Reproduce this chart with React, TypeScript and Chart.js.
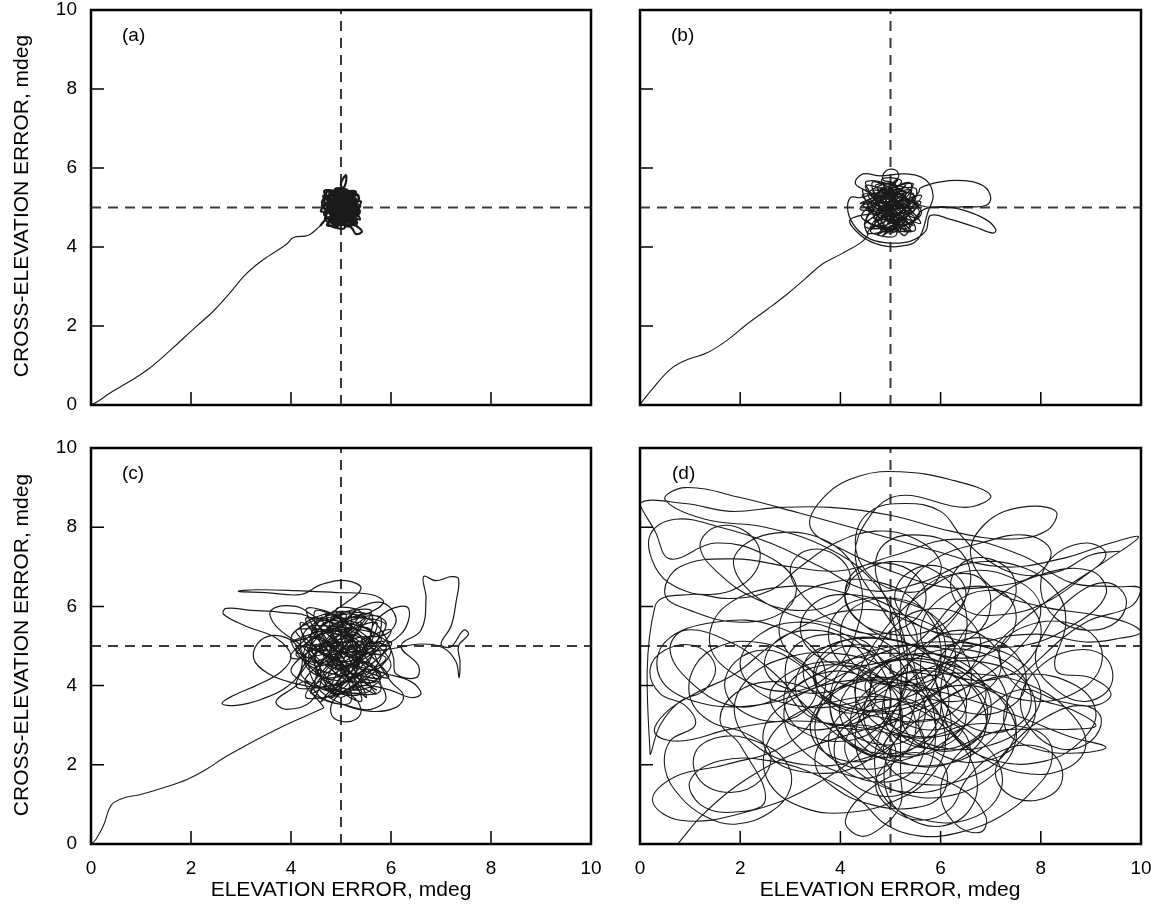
import React, { useEffect, useRef } from 'react';
import { Chart, registerables } from 'chart.js';

Chart.register(...registerables);

type Pt = [number, number];

// Axis and labels
const tickLabelValues = [0, 2, 4, 6, 8, 10];
const innerTickValues = [2, 4, 6, 8];
const guideValue = 5;
const panelLetters = ['(a)', '(b)', '(c)', '(d)'];
const yTitleText = 'CROSS-ELEVATION ERROR, mdeg';
const xTitleText = 'ELEVATION ERROR, mdeg';

// Panel (a): approach path, then a tight cluster around (5,5)
const aApproach: Pt[] = [
  [0, 0], [0.15, 0.1], [0.35, 0.28], [0.75, 0.58], [1.15, 0.91], [1.6, 1.4], [2.08, 1.96], [2.45, 2.38],
  [2.78, 2.84], [3.05, 3.25], [3.28, 3.52], [3.55, 3.77], [3.91, 4.07], [4.05, 4.24], [4.35, 4.3], [4.58, 4.53]
];
const aCluster: Pt[] = [
  [4.58, 4.53], [4.7, 4.7], [5.28, 5.2], [4.82, 5.38], [5.22, 4.62], [4.64, 5.02], [5.36, 4.98], [4.9, 4.56], [5.06, 5.42],
  [4.7, 5.22], [5.3, 4.78], [4.95, 5.0], [5.18, 5.35], [4.75, 4.62], [5.32, 5.1], [4.85, 5.25], [5.1, 4.6],
  [4.66, 4.85], [5.25, 5.3], [5.0, 4.7], [4.78, 5.4], [5.34, 4.85], [4.72, 4.55], [5.12, 5.15], [4.88, 4.8],
  [5.3, 5.4], [4.62, 5.15], [5.15, 4.52], [4.95, 5.3], [5.38, 4.7], [4.8, 5.05], [5.05, 4.65], [4.7, 5.35],
  [5.05, 5.5], [5.1, 5.82], [5.0, 5.55], [5.25, 5.0], [4.9, 4.5], [5.4, 5.15], [4.75, 4.95], [5.1, 5.45],
  [4.68, 4.7], [5.2, 4.75], [4.85, 5.15], [5.35, 5.3], [5.0, 4.55], [4.65, 5.3], [5.28, 4.55], [4.92, 4.9],
  [5.18, 5.25], [4.72, 5.05], [5.3, 4.92], [4.8, 4.62], [5.05, 5.38], [4.6, 4.9], [5.38, 5.05], [4.95, 4.65],
  [5.1, 5.1], [4.78, 5.28], [5.25, 4.68], [5.3, 4.55], [5.42, 4.4], [5.3, 4.33], [5.2, 4.5], [4.7, 4.8],
  [5.15, 5.4], [4.88, 5.45], [5.32, 4.6], [4.85, 4.7], [5.22, 5.12], [4.64, 5.2], [5.05, 4.9], [5.36, 5.25],
  [4.9, 5.35], [5.08, 4.5], [4.74, 4.6], [5.3, 5.0], [4.82, 4.9], [5.12, 5.28], [4.66, 5.4], [5.2, 4.58],
  [4.98, 5.18], [5.34, 4.78], [4.76, 5.1], [5.02, 4.62], [5.26, 5.38], [4.7, 4.95], [5.16, 4.82], [4.86, 5.32],
  [5.38, 4.9], [4.9, 4.6], [5.06, 5.22], [4.62, 5.05], [5.3, 5.22], [4.84, 4.52], [5.2, 4.95], [4.74, 5.25],
  [5.0, 5.0], [4.92, 5.12], [5.12, 4.72], [4.8, 4.85], [5.24, 5.06], [4.96, 4.78], [5.08, 5.3], [4.86, 5.02]
];

// Panel (b)
const bApproach: Pt[] = [
  [0, 0], [0.05, 0.1], [0.27, 0.44], [0.61, 0.91], [0.95, 1.15], [1.34, 1.32], [1.75, 1.65], [2.14, 2.05],
  [2.55, 2.43], [2.94, 2.81], [3.3, 3.2], [3.64, 3.57], [4.01, 3.82], [4.41, 4.11], [4.55, 4.3]
];
const bCluster: Pt[] = [
  [4.55, 4.3], [4.5, 4.6], [5.4, 5.4], [4.7, 5.55], [5.5, 4.7], [4.45, 5.05], [5.55, 5.1], [4.8, 4.45], [5.1, 5.6],
  [4.55, 5.3], [5.45, 4.55], [4.95, 5.0], [5.3, 5.55], [4.6, 4.5], [5.5, 5.25], [4.75, 5.4], [5.2, 4.4],
  [4.42, 4.8], [5.4, 5.45], [5.0, 4.6], [4.65, 5.65], [5.58, 4.85], [4.55, 4.35], [5.2, 5.2], [4.8, 4.75],
  [5.45, 5.6], [4.4, 5.25], [4.2, 5.25], [4.15, 4.9], [4.3, 4.5], [4.6, 4.2], [5.0, 4.1], [5.4, 4.15],
  [5.7, 4.4], [5.8, 4.8], [6.2, 4.7], [6.7, 4.5], [7.05, 4.35], [7.1, 4.45], [6.9, 4.7], [6.4, 4.95],
  [6.0, 5.02], [5.6, 4.9], [5.25, 4.3], [4.9, 5.45], [5.6, 4.6], [4.7, 5.05], [5.1, 4.55], [4.5, 5.55],
  [5.4, 5.0], [4.85, 4.3], [5.62, 5.3], [4.6, 4.9], [5.15, 5.7], [4.48, 4.55], [5.3, 4.65], [4.78, 5.25],
  [5.52, 5.45], [5.0, 4.35], [4.45, 5.45], [5.42, 4.4], [4.88, 4.85], [5.28, 5.4], [4.58, 5.1], [5.48, 4.95],
  [4.7, 4.55], [5.05, 5.6], [4.85, 5.7], [4.9, 5.92], [5.1, 5.95], [5.15, 5.75], [4.4, 4.95], [5.6, 5.15],
  [4.92, 4.5], [5.15, 5.15], [4.66, 5.42], [5.38, 4.52], [4.52, 4.7], [5.22, 5.65], [4.82, 5.68], [5.5, 4.45],
  [4.76, 4.62], [5.32, 5.18], [4.44, 5.32], [5.08, 4.82], [5.56, 5.38], [5.6, 5.5], [6.0, 5.65], [6.45, 5.68],
  [6.85, 5.55], [7.0, 5.25], [6.9, 5.05], [6.5, 5.02], [6.0, 5.0], [5.6, 5.05], [4.86, 5.52], [5.12, 4.32],
  [4.6, 4.42], [5.46, 5.02], [4.72, 4.88], [5.18, 5.44], [4.5, 5.62], [5.34, 4.36], [4.98, 5.26], [5.56, 4.7],
  [4.62, 5.18], [5.04, 4.44], [5.4, 5.62], [4.52, 4.98], [5.26, 4.78], [4.8, 5.5], [5.62, 4.88], [4.84, 4.4],
  [5.1, 5.34], [4.4, 5.1], [5.46, 5.34], [4.74, 4.32], [5.3, 4.94], [4.6, 5.38], [4.3, 5.6], [4.45, 5.85],
  [4.8, 5.8], [5.3, 5.85], [5.7, 5.7], [5.85, 5.3], [5.75, 4.9], [5.55, 4.2], [5.2, 4.02], [4.8, 4.05],
  [4.4, 4.3], [4.2, 4.7], [4.9, 4.9], [5.2, 5.1], [4.95, 5.15], [5.05, 4.75], [4.7, 5.2], [5.3, 5.3],
  [4.65, 4.75], [5.35, 4.8], [4.85, 5.35], [5.15, 4.6], [4.55, 5.0], [5.45, 5.2], [5.0, 5.0]
];

// Panel (c)
const cApproach: Pt[] = [
  [0, 0], [0.1, 0.12], [0.26, 0.5], [0.36, 0.88], [0.46, 1.05], [0.7, 1.18], [0.99, 1.25], [1.45, 1.42],
  [1.92, 1.63], [2.3, 1.88], [2.66, 2.18], [3.0, 2.42], [3.32, 2.64], [3.66, 2.86], [3.99, 3.06], [4.33, 3.25],
  [4.66, 3.44]
];
const cCluster: Pt[] = [
  [4.66, 3.44], [4.3, 4.2], [5.6, 5.3], [4.5, 5.6], [5.8, 4.2], [4.1, 4.9], [5.9, 5.0], [4.7, 3.9], [5.2, 5.8],
  [4.2, 5.4], [5.7, 3.9], [4.9, 4.8], [5.5, 5.7], [4.4, 3.8], [5.9, 5.5], [4.6, 5.5], [5.4, 3.8],
  [4.0, 4.4], [5.7, 5.6], [5.0, 4.2], [4.5, 5.9], [6.0, 4.5], [4.3, 3.7], [5.3, 5.3], [4.7, 4.5],
  [5.6, 5.9], [4.0, 5.2], [5.4, 3.6], [4.8, 5.5], [5.95, 4.2], [4.4, 4.9], [5.2, 4.1], [4.3, 5.7],
  [5.8, 4.8], [4.8, 3.7], [6.0, 5.4], [4.4, 4.6], [5.3, 5.9], [4.1, 4.0], [5.5, 4.4], [4.6, 5.2],
  [5.8, 5.7], [5.0, 3.7], [4.2, 5.6], [5.7, 3.8], [4.8, 4.7], [5.4, 5.6], [4.3, 5.0], [5.9, 4.7],
  [4.5, 4.0], [5.1, 5.8], [4.0, 4.7], [6.0, 5.1], [4.9, 4.0], [5.3, 5.0], [4.6, 5.7], [5.6, 3.9],
  [4.2, 4.3], [5.4, 5.8], [4.9, 5.9], [5.8, 3.9], [4.6, 4.1], [5.5, 5.1], [4.1, 5.4], [5.1, 4.6],
  [5.9, 5.6], [4.8, 5.7], [5.2, 3.6], [4.4, 3.9], [5.7, 4.9], [4.6, 4.8], [5.2, 5.5], [4.3, 5.9],
  [5.5, 3.7], [5.0, 5.3], [5.9, 4.3], [4.4, 5.2], [5.0, 3.9], [5.6, 5.8], [4.1, 4.8], [5.4, 4.6],
  [4.7, 5.8], [6.0, 4.9], [4.8, 3.8], [5.2, 5.4], [4.0, 5.1], [5.6, 5.4], [4.6, 3.6], [5.4, 4.9],
  [4.4, 5.5], [5.8, 5.2], [4.9, 4.4], [5.1, 5.1], [4.5, 4.3], [5.7, 4.1], [4.3, 4.6], [5.0, 5.6],
  [5.3, 4.3], [4.7, 5.0], [5.5, 4.8], [4.9, 4.9], [4.4, 5.7], [3.8, 5.85], [3.2, 5.9], [2.7, 5.95],
  [2.65, 5.8], [3.1, 5.5], [3.7, 5.2], [4.0, 4.75], [3.8, 4.35], [3.3, 4.0], [2.85, 3.75], [2.62, 3.55],
  [2.9, 3.5], [3.4, 3.65], [3.9, 3.95], [4.2, 4.4], [4.15, 4.95], [3.8, 5.25], [3.4, 5.15], [3.25, 4.7],
  [3.55, 4.3], [4.1, 4.05], [4.7, 3.9], [5.2, 3.75], [5.4, 3.4], [5.3, 3.15], [5.0, 3.1], [4.8, 3.3],
  [4.9, 3.7], [5.4, 4.0], [5.95, 3.9], [6.4, 3.7], [6.6, 3.8], [6.4, 4.1], [5.9, 4.3], [5.3, 4.5],
  [4.75, 4.75], [4.4, 5.15], [4.55, 5.6], [5.0, 6.0], [5.4, 6.45], [5.1, 6.65], [4.6, 6.55], [4.2, 6.3],
  [3.5, 6.35], [2.95, 6.38], [3.3, 6.42], [4.1, 6.4], [4.9, 6.35], [5.6, 6.3], [5.85, 6.1], [5.5, 5.8],
  [5.0, 5.6], [5.6, 5.0], [6.2, 5.3], [6.35, 5.95], [5.95, 5.9], [5.6, 5.4], [5.7, 4.7], [6.0, 4.1],
  [6.25, 3.75], [6.1, 3.45], [5.6, 3.35], [5.0, 3.55], [4.5, 4.0], [4.35, 4.7], [4.55, 5.4], [5.05, 5.8],
  [5.6, 5.65], [5.9, 5.2], [6.05, 4.7], [6.1, 4.3], [6.5, 4.2], [6.55, 4.5], [6.2, 5.0], [6.6, 5.4],
  [6.7, 6.2], [6.65, 6.75], [6.9, 6.65], [7.2, 6.75], [7.35, 6.7], [7.3, 6.1], [7.2, 5.5], [7.0, 5.05],
  [7.2, 4.98], [7.45, 5.4], [7.55, 5.3], [7.35, 5.0], [7.38, 4.6], [7.36, 4.2], [7.3, 4.6], [7.05, 4.95],
  [6.6, 5.05], [6.1, 4.95], [5.6, 4.85], [5.0, 4.7], [4.5, 4.5], [4.2, 4.9], [4.3, 5.4], [4.7, 5.65],
  [5.2, 5.5], [5.45, 5.0], [5.3, 4.45], [4.85, 4.2], [4.4, 4.35], [4.25, 4.8], [4.5, 5.25], [4.95, 5.3],
  [5.3, 5.05], [5.25, 4.6], [4.9, 4.45], [4.65, 4.75], [4.8, 5.05], [5.1, 4.95], [5.6, 4.3], [5.9, 3.7],
  [5.6, 3.4], [5.1, 3.5], [4.6, 3.7], [4.3, 4.1], [4.0, 3.9], [3.7, 3.6], [3.9, 3.4], [4.4, 3.6],
  [4.6, 4.3], [4.3, 4.9], [3.7, 5.5], [3.6, 5.9], [4.1, 6.0], [4.6, 5.7], [5.2, 5.9], [5.8, 6.1],
  [6.1, 5.7], [5.9, 5.3], [5.3, 5.2], [4.8, 4.9], [4.9, 4.5], [5.5, 4.6], [5.8, 4.2], [5.4, 3.9],
  [4.9, 4.0], [4.5, 4.4], [4.6, 5.0], [5.1, 5.2]
];

// Panel (d)
const dPathMain: Pt[] = [
  [0.75, 0.0], [1.3, 0.8], [2.2, 1.7], [3.3, 2.4], [4.5, 2.9], [5.6, 3.4], [6.7, 4.1], [7.6, 5.0],
  [8.0, 5.9], [7.6, 6.6], [6.6, 6.9], [5.6, 6.3], [4.7, 5.1], [4.3, 3.9], [4.6, 2.7], [5.4, 2.0],
  [6.3, 2.1], [6.9, 2.9], [6.6, 4.0], [5.7, 4.6], [4.5, 4.5], [3.4, 3.9], [2.3, 3.5], [1.1, 3.6],
  [0.4, 4.2], [0.5, 5.1], [1.5, 5.6], [2.7, 5.5], [3.6, 4.7], [3.6, 3.5], [2.9, 2.5], [1.7, 2.0],
  [0.7, 1.7], [0.25, 1.1], [0.8, 0.6], [2.1, 0.8], [3.5, 1.5], [4.7, 2.7], [5.3, 4.1], [5.2, 5.5],
  [4.6, 6.7], [3.7, 7.5], [2.5, 8.0], [1.3, 8.2], [0.5, 8.7], [0.9, 9.0], [2.0, 8.75], [3.2, 8.35],
  [4.5, 7.9], [5.9, 7.4], [7.2, 7.0], [8.4, 7.2], [9.4, 7.6], [9.95, 7.75], [9.3, 7.15], [8.3, 6.3],
  [7.4, 5.4], [6.5, 4.3], [5.5, 3.6], [4.5, 3.3], [3.9, 2.6], [4.1, 1.7], [4.9, 1.2], [5.6, 1.6],
  [5.9, 2.7], [5.7, 3.9], [5.0, 5.0], [4.0, 5.5], [3.0, 5.8], [2.1, 6.5], [1.9, 7.3], [2.7, 7.85],
  [3.8, 7.6], [4.4, 6.6], [4.3, 5.3], [3.8, 4.3], [3.0, 3.85], [2.0, 4.2], [1.4, 5.0], [1.7, 6.0],
  [2.9, 6.5], [4.2, 6.3], [5.4, 5.6], [6.5, 5.1], [7.6, 5.0], [8.6, 5.5], [9.3, 6.3], [9.0, 6.9],
  [8.0, 6.8], [7.0, 6.1], [6.3, 5.0], [6.0, 3.8], [6.3, 2.7], [7.1, 2.1], [8.1, 2.1], [8.8, 2.6],
  [9.1, 3.3], [8.7, 4.0], [7.7, 4.3], [6.6, 4.0], [5.7, 3.3], [5.0, 2.4], [4.9, 1.4], [5.3, 0.7],
  [6.0, 0.45], [6.6, 0.9], [6.7, 1.8], [6.2, 2.8], [5.4, 3.5], [4.4, 3.9], [3.4, 4.4], [2.8, 5.2],
  [3.0, 6.1], [3.8, 6.6], [4.8, 6.6], [5.6, 6.0], [6.0, 5.0], [5.8, 3.9], [5.1, 3.1], [4.2, 2.9],
  [3.4, 3.3], [3.1, 4.1], [3.6, 4.9], [4.6, 5.2], [5.7, 4.9], [6.6, 4.3], [7.3, 3.5], [7.5, 2.6],
  [7.0, 1.7], [6.1, 1.2], [5.2, 1.3], [4.5, 1.9], [4.3, 2.8], [4.7, 3.7], [5.6, 4.2], [6.7, 4.3],
  [7.8, 4.0], [8.6, 3.3], [8.9, 2.5], [8.5, 1.9], [7.6, 1.8], [6.7, 2.3], [6.0, 3.2], [5.5, 4.2],
  [5.2, 5.3], [5.3, 6.4], [5.9, 7.2], [6.8, 7.6], [7.7, 7.8], [8.2, 7.4], [7.9, 6.8], [7.0, 6.5],
  [6.0, 6.5], [5.0, 6.9], [4.1, 7.4], [3.4, 8.0], [3.7, 8.8], [4.4, 9.3], [5.2, 9.4], [6.2, 9.2],
  [7.0, 8.8], [6.5, 8.5], [5.2, 8.8], [4.6, 8.3], [4.3, 7.2], [4.8, 6.0], [5.4, 4.8], [5.5, 3.6],
  [5.1, 2.6], [4.3, 2.1], [3.3, 2.0], [2.4, 2.4], [1.9, 3.2], [2.1, 4.1], [2.9, 4.7], [4.0, 4.8],
  [5.0, 4.4], [5.8, 3.6], [6.1, 2.6], [5.8, 1.7], [5.1, 1.1], [4.2, 0.8], [3.3, 0.9], [2.6, 1.5],
  [2.5, 2.4], [3.0, 3.2], [3.9, 3.6], [4.9, 3.7], [5.9, 3.3], [6.7, 2.7], [7.2, 1.9], [7.1, 1.1],
  [6.5, 0.6], [5.7, 0.6], [5.0, 1.0], [4.7, 1.8], [4.8, 2.8], [5.3, 3.7], [6.0, 4.5], [6.9, 5.1],
  [7.9, 5.3], [8.9, 5.1], [9.6, 5.2], [10.0, 5.35], [9.7, 5.6], [9.0, 5.8], [8.0, 6.0], [7.1, 6.4],
  [6.6, 7.3], [6.9, 8.1], [7.6, 8.5], [8.3, 8.4], [8.1, 7.9], [7.3, 7.7], [6.2, 7.9], [5.0, 8.3],
  [3.8, 8.5], [2.8, 8.5], [1.8, 8.4], [0.9, 8.6], [0.0, 8.6], [0.3, 7.9], [0.6, 7.2], [1.5, 7.6],
  [2.5, 7.3], [3.1, 6.6], [2.9, 5.9], [2.0, 5.6], [1.0, 5.9], [0.5, 6.3], [0.8, 7.0], [1.9, 7.2],
  [3.0, 7.0], [4.0, 6.9], [5.1, 7.3], [6.3, 7.7], [7.6, 7.3], [8.6, 6.6], [9.5, 6.5], [10.0, 6.45],
  [9.8, 6.0], [8.9, 5.6], [8.0, 4.7], [7.4, 3.8], [7.3, 2.9], [7.9, 2.4], [8.8, 2.3], [9.3, 2.45],
  [8.6, 2.7], [7.6, 3.2], [6.7, 3.6], [5.8, 3.9], [4.9, 4.1], [4.0, 4.1], [3.1, 3.7], [2.5, 3.0],
  [2.6, 2.2], [3.4, 1.8], [4.4, 2.0], [5.0, 2.8], [5.2, 3.8], [4.8, 4.7], [4.1, 5.0], [3.4, 4.8],
  [3.3, 4.1], [3.9, 3.5], [4.8, 3.2], [5.7, 3.1], [6.4, 3.5], [6.6, 4.4], [6.1, 5.3], [5.2, 5.8],
  [4.2, 5.9], [3.4, 5.6], [2.6, 5.0], [1.9, 4.3], [1.1, 3.8], [0.5, 3.3], [0.3, 2.8], [0.8, 2.6],
  [1.8, 2.9], [2.9, 3.1], [4.1, 3.0], [5.3, 2.7], [6.2, 2.4], [7.0, 2.5], [7.7, 3.0], [8.0, 3.8],
  [7.6, 4.6], [6.8, 5.0], [5.9, 5.1], [5.0, 4.9], [4.2, 4.4], [3.8, 3.6], [4.0, 2.8], [4.7, 2.3],
  [5.6, 2.5], [6.1, 3.2], [6.1, 4.1], [5.6, 4.9], [4.8, 5.2], [4.0, 5.1], [3.5, 4.5], [3.6, 3.8],
  [4.3, 3.4], [5.2, 3.4], [6.0, 3.9], [6.3, 4.7], [6.0, 5.6], [5.3, 6.1], [4.5, 6.2], [3.9, 5.8],
  [3.8, 5.0], [4.3, 4.3], [5.1, 4.0], [5.9, 4.2], [6.4, 4.9], [6.5, 5.9], [6.1, 6.7], [5.4, 7.1],
  [4.6, 7.0], [4.1, 6.4], [4.3, 5.7], [5.0, 5.3], [5.8, 5.4], [6.4, 6.0], [6.6, 6.8], [6.3, 7.5],
  [5.6, 7.8], [4.9, 7.6], [4.7, 6.9], [5.0, 5.9], [5.2, 4.6], [5.2, 3.3], [5.2, 1.8], [5.2, 1.0],
  [4.8, 0.4], [4.4, 0.2], [4.1, 0.6], [4.6, 1.4], [5.4, 1.8], [6.4, 1.4], [6.9, 0.7], [6.8, 0.3],
  [6.3, 0.5], [6.0, 1.3], [6.3, 2.2], [7.0, 2.8], [7.9, 2.9], [8.7, 2.9], [9.1, 3.0], [8.6, 3.4],
  [7.9, 3.7], [7.3, 4.3], [7.2, 5.0], [7.7, 5.5], [8.5, 5.6], [9.1, 5.2], [9.2, 4.5], [8.8, 3.9],
  [8.0, 3.6], [7.0, 3.9], [6.2, 4.5], [5.3, 4.8], [4.3, 4.7], [3.4, 4.2], [2.6, 3.6], [1.8, 3.5],
  [1.0, 4.1], [0.6, 4.9], [0.9, 5.4], [1.8, 5.1], [2.6, 4.4], [3.3, 3.5], [4.1, 2.6], [5.0, 2.1],
  [6.0, 2.0], [6.8, 2.4], [7.3, 3.2], [7.2, 4.1], [6.6, 4.7], [5.7, 5.0], [4.7, 4.9], [4.0, 4.4],
  [3.8, 3.4], [4.2, 2.5], [5.0, 2.2], [5.8, 2.8], [6.0, 3.7], [5.6, 4.5], [4.9, 4.6], [4.5, 3.9]
];
const dPathExtra: Pt[] = [
  [5.2, 3.1], [6.0, 2.9], [6.5, 3.4], [6.3, 4.2], [5.5, 4.4], [4.9, 3.8], [5.1, 2.9], [5.8, 2.4],
  [6.6, 2.6], [7.0, 3.3], [6.8, 4.1], [6.0, 4.6], [5.0, 4.6], [4.2, 4.0], [4.0, 3.2], [4.5, 2.6],
  [5.3, 2.6], [5.7, 3.3], [5.4, 4.0], [4.6, 4.2], [3.8, 3.8], [3.4, 3.0], [3.7, 2.3], [4.5, 2.1],
  [5.1, 2.6], [5.2, 3.5], [4.7, 4.3], [3.9, 4.6], [3.1, 4.4], [2.6, 3.8], [2.9, 3.1], [3.7, 2.9],
  [4.4, 3.4], [4.6, 4.3], [4.2, 5.1], [3.4, 5.4], [2.7, 5.1], [2.5, 4.4], [3.0, 3.9], [3.9, 3.9],
  [4.6, 4.6], [5.0, 5.4], [5.6, 5.9], [6.4, 5.8], [6.8, 5.1], [6.5, 4.3], [5.8, 3.9], [5.0, 4.0],
  [4.3, 4.5], [4.0, 5.3], [4.3, 6.0], [5.1, 6.2], [5.8, 5.8], [6.1, 5.0], [5.9, 4.2], [5.3, 3.7],
  [4.5, 3.6], [3.9, 3.1], [3.8, 2.3], [4.3, 1.7], [5.1, 1.6], [5.6, 2.1], [5.6, 2.9], [5.0, 3.3],
  [4.3, 3.0], [4.1, 2.3], [4.6, 1.6], [5.5, 1.3], [6.3, 1.6], [6.6, 2.3], [6.3, 3.0], [5.5, 3.1],
  [4.9, 2.6], [5.0, 1.9], [5.7, 1.5], [6.6, 1.7], [7.3, 2.3], [7.5, 3.1], [7.1, 3.8], [6.3, 4.0],
  [5.7, 3.6], [5.6, 2.8], [6.1, 2.2], [6.9, 2.1], [7.6, 2.6], [7.9, 3.4], [7.6, 4.2], [6.8, 4.6],
  [5.9, 4.5], [5.3, 4.0], [5.2, 3.2], [5.6, 2.5], [6.4, 2.4], [6.9, 3.0], [6.8, 3.8], [6.1, 4.3],
  [5.2, 4.3], [4.6, 3.8], [4.5, 3.0], [5.0, 2.4], [5.8, 2.3], [6.2, 2.9], [6.0, 3.7], [5.3, 4.1],
  [4.4, 4.1], [3.7, 3.6], [3.5, 2.8], [3.9, 2.1], [4.7, 1.9], [5.3, 2.3], [5.5, 3.1], [5.1, 3.9],
  [4.4, 4.4], [3.6, 4.5], [3.0, 4.1], [2.9, 3.4], [3.3, 2.8], [4.1, 2.6], [4.8, 3.0], [5.0, 3.8],
  [4.6, 4.8], [3.9, 5.4], [3.1, 5.6], [2.4, 5.3], [2.0, 4.6], [2.3, 3.9], [3.1, 3.5], [4.0, 3.5],
  [4.8, 3.9], [5.4, 4.6], [5.5, 5.4], [5.0, 6.0], [4.2, 6.3], [3.5, 6.1], [3.2, 5.4], [3.6, 4.7],
  [4.4, 4.5], [5.2, 4.8], [5.8, 5.4], [6.3, 6.1], [6.9, 6.4], [7.6, 6.2], [8.0, 5.5], [7.8, 4.7],
  [7.2, 4.2], [6.4, 4.2], [5.8, 4.7], [5.6, 5.4], [5.9, 6.1], [6.6, 6.5], [7.3, 6.3], [7.5, 5.6],
  [7.1, 4.9], [6.3, 4.7], [5.6, 5.0], [5.3, 5.7], [5.6, 6.4], [6.2, 6.8], [6.8, 6.7], [7.0, 6.0],
  [6.7, 5.3], [6.0, 5.0], [5.2, 5.1], [4.5, 5.5], [4.1, 6.2], [4.3, 6.9], [4.9, 7.1], [5.5, 6.8],
  [5.7, 6.1], [5.3, 5.5], [4.6, 5.3], [3.9, 5.6], [3.3, 6.2], [3.0, 6.9], [3.3, 7.4], [3.9, 7.3],
  [4.2, 6.7], [3.9, 6.1], [3.1, 5.9], [2.3, 6.2], [1.6, 6.8], [1.2, 7.5], [1.5, 8.0], [2.1, 7.9],
  [2.4, 7.3], [2.1, 6.6], [1.4, 6.3], [0.7, 6.5], [0.3, 7.0], [0.2, 7.8], [0.7, 8.2], [1.6, 8.0],
  [2.6, 7.6], [3.6, 7.0], [4.6, 6.4], [5.6, 6.6], [6.6, 7.1], [7.6, 7.0], [8.3, 6.4], [8.5, 5.6],
  [8.3, 4.4], [9.0, 4.2], [9.4, 3.8], [9.1, 3.5], [8.4, 3.6], [7.6, 3.9], [6.8, 3.3], [6.1, 2.6],
  [5.4, 2.2], [4.6, 2.5], [4.0, 3.4], [3.4, 3.9], [2.6, 4.1], [1.9, 3.8], [1.6, 3.1], [2.0, 2.5],
  [2.5, 1.1], [1.8, 0.8], [1.2, 1.0], [1.0, 1.6], [1.6, 2.1], [2.6, 2.1], [3.6, 1.7], [4.4, 1.1],
  [4.9, 0.5], [5.6, 0.2], [6.4, 0.3], [7.2, 0.7], [7.8, 1.3], [8.2, 2.0], [8.1, 2.7], [7.4, 3.0],
  [6.5, 3.0], [5.7, 2.7], [5.0, 3.0], [4.6, 3.6], [4.8, 4.4], [5.5, 4.8], [6.4, 4.6], [6.9, 3.9],
  [6.6, 3.1], [5.9, 2.7], [5.1, 2.8], [4.5, 3.3], [4.3, 4.0], [4.8, 4.5]
];
const dPathLate: Pt[] = [
  [5.5, 4.9], [6.2, 5.6], [6.5, 6.4], [6.0, 7.0], [5.3, 6.8], [5.1, 6.1], [5.6, 5.5], [6.4, 5.3],
  [7.1, 5.6], [7.5, 6.3], [7.3, 7.0], [6.6, 7.2], [6.2, 6.6], [6.5, 5.9], [7.3, 5.8], [8.1, 6.1],
  [8.8, 6.7], [9.3, 7.3], [8.9, 7.6], [8.2, 7.2], [8.0, 6.4], [8.3, 5.7], [8.9, 5.4], [9.5, 5.6],
  [9.7, 6.2], [9.3, 6.6], [8.6, 6.2], [8.1, 5.4], [7.9, 4.6], [8.3, 3.9], [8.9, 3.6], [9.4, 4.0],
  [9.3, 4.7], [8.7, 4.9], [8.0, 4.5], [7.6, 3.7], [7.8, 2.9], [8.4, 2.4], [9.0, 2.6], [9.2, 3.2],
  [8.8, 3.5], [8.1, 3.2], [7.5, 2.6], [7.1, 1.9], [7.3, 1.3], [7.9, 1.1], [8.4, 1.5], [8.3, 2.2],
  [7.7, 2.5], [7.0, 2.2], [6.5, 1.6], [6.2, 0.9], [5.6, 0.6], [5.0, 0.9], [4.7, 1.5], [5.0, 2.1],
  [5.6, 2.3], [6.1, 1.9], [6.0, 1.2], [5.4, 0.9], [4.6, 1.0], [3.9, 1.4], [3.5, 2.0], [3.7, 2.7],
  [4.3, 3.0], [4.9, 2.8], [5.1, 2.2], [4.7, 1.7], [4.0, 1.8], [3.3, 2.3], [2.9, 3.0], [3.0, 3.8],
  [3.6, 4.3], [4.3, 4.3], [4.7, 3.8], [4.5, 3.2], [3.9, 3.0], [3.2, 3.4], [2.9, 4.2], [3.1, 5.0],
  [3.8, 5.3], [4.5, 5.1], [4.9, 4.5], [5.4, 3.9], [6.1, 3.6], [6.8, 3.8], [7.2, 4.4], [7.0, 5.1],
  [6.4, 5.4], [5.8, 5.1], [5.6, 4.4], [5.9, 3.7], [6.6, 3.3], [7.3, 3.4], [7.7, 4.0], [7.5, 4.8],
  [6.9, 5.2], [6.2, 5.0], [5.9, 4.3], [6.1, 3.5], [6.7, 2.9], [7.4, 2.9], [7.8, 3.5], [7.6, 4.3],
  [6.9, 4.8], [6.0, 4.9], [5.3, 4.5], [4.9, 3.8], [4.9, 3.0], [5.4, 2.5], [6.1, 2.5], [6.5, 3.1],
  [6.3, 3.9], [5.7, 4.3], [5.0, 4.2], [4.4, 3.7], [4.2, 3.0], [4.5, 2.4], [5.1, 2.1], [5.7, 2.4],
  [5.9, 3.0], [5.5, 3.6], [4.8, 3.6], [4.2, 3.3], [3.7, 3.6], [3.5, 4.3], [3.9, 4.9], [4.6, 5.0],
  [5.2, 4.6], [5.3, 3.9], [4.9, 3.4], [4.2, 3.5], [3.6, 4.0], [3.1, 4.6], [2.5, 4.9], [1.9, 4.6],
  [1.7, 3.9], [2.1, 3.3], [2.8, 3.1], [3.4, 3.5], [3.5, 4.2], [3.0, 4.8], [2.3, 5.1], [1.6, 5.0],
  [1.1, 4.5], [1.0, 3.7], [1.4, 3.1], [2.1, 2.8], [2.6, 2.3], [2.4, 1.6], [1.8, 1.3], [1.2, 1.6],
  [1.1, 2.3], [1.6, 2.7], [2.3, 2.6], [2.9, 2.1], [3.0, 1.4], [2.6, 0.8], [1.9, 0.5], [1.3, 0.7],
  [0.8, 1.2], [0.5, 1.9], [0.6, 2.6], [1.1, 3.0], [0.9, 3.5], [0.4, 3.8], [0.2, 4.4], [0.5, 4.9],
  [1.1, 5.0], [1.5, 4.5], [1.3, 3.9], [0.8, 3.6], [0.4, 3.0], [0.2, 2.3], [0.3, 6.0], [1.0, 6.3],
  [1.8, 6.2], [2.6, 6.4], [3.2, 7.0], [3.9, 7.6], [4.7, 7.9], [5.5, 7.7], [6.0, 7.1], [5.8, 6.5],
  [5.1, 6.4], [4.5, 6.9], [4.3, 7.7], [4.6, 8.4], [5.3, 8.6], [6.0, 8.4], [6.4, 7.8], [6.9, 7.2],
  [7.6, 6.8], [8.4, 6.9], [9.0, 7.3], [9.6, 7.4]
];

// Each panel: list of [path, line width]
const panelSegments: [Pt[], number][][] = [
  [[aApproach, 1.1], [aCluster, 2.2]],
  [[bApproach, 1.1], [bCluster, 1.25]],
  [[cApproach, 1.1], [cCluster, 1.2]],
  [[[...dPathMain, ...dPathExtra, ...dPathLate], 1.1]]
];

const FONT = "'Liberation Sans', Arial, Helvetica, sans-serif";

const framePlugin = {
  id: 'frame',
  afterDatasetsDraw(chart: any) {
    const { ctx, chartArea } = chart;
    const xs = chart.scales.x;
    const ys = chart.scales.y;
    ctx.save();
    ctx.strokeStyle = '#000';
    ctx.lineWidth = 1.5;
    ctx.beginPath();
    innerTickValues.forEach((v) => {
      const px = xs.getPixelForValue(v);
      ctx.moveTo(px, chartArea.bottom);
      ctx.lineTo(px, chartArea.bottom - 13);
      const py = ys.getPixelForValue(v);
      ctx.moveTo(chartArea.left, py);
      ctx.lineTo(chartArea.left + 13, py);
    });
    ctx.stroke();
    ctx.lineWidth = 2.5;
    ctx.strokeRect(chartArea.left, chartArea.top, chartArea.right - chartArea.left, chartArea.bottom - chartArea.top);
    ctx.restore();
  },
};

interface PanelProps {
  index: number;
  left: number;
  top: number;
  width: number;
  height: number;
  padTop: number;
  padRight: number;
  yW: number;
  xH: number;
  showX: boolean;
  showY: boolean;
}

function Panel(props: PanelProps) {
  const { index, left, top, width, height, padTop, padRight, yW, xH, showX, showY } = props;
  const ref = useRef<HTMLCanvasElement>(null);
  useEffect(() => {
    const traceSets = panelSegments[index].map(([path, w]) => ({
      data: path.map(([x, y]) => ({ x, y })),
      showLine: true,
      borderColor: '#1a1a1a',
      borderWidth: w,
      pointRadius: 0,
      tension: 0.4,
      order: 0,
    }));
    const chart = new Chart(ref.current as HTMLCanvasElement, {
      type: 'scatter',
      data: {
        datasets: [
          ...traceSets,
          {
            data: [{ x: guideValue, y: 0 }, { x: guideValue, y: 10 }],
            showLine: true,
            borderColor: '#3a3a3a',
            borderWidth: 2,
            borderDash: [10, 7],
            pointRadius: 0,
            order: 1,
          },
          {
            data: [{ x: 0, y: guideValue }, { x: 10, y: guideValue }],
            showLine: true,
            borderColor: '#3a3a3a',
            borderWidth: 2,
            borderDash: [10, 7],
            pointRadius: 0,
            order: 1,
          },
        ],
      } as any,
      options: {
        responsive: false,
        animation: false,
        devicePixelRatio: 1,
        layout: { padding: { top: padTop, right: padRight, left: 0, bottom: 0 } },
        plugins: { legend: { display: false }, tooltip: { enabled: false } },
        scales: {
          x: {
            type: 'linear',
            min: 0,
            max: 10,
            grid: { display: false, drawTicks: false },
            border: { display: false },
            ticks: { display: showX, padding: 13, color: '#000', font: { family: FONT, size: 19 } },
            afterBuildTicks: (s: any) => {
              s.ticks = tickLabelValues.map((v) => ({ value: v }));
            },
            afterFit: (s: any) => {
              s.height = xH;
              s.paddingLeft = 0;
              s.paddingRight = 0;
            },
          },
          y: {
            type: 'linear',
            min: 0,
            max: 10,
            grid: { display: false, drawTicks: false },
            border: { display: false },
            ticks: { display: showY, padding: 14, color: '#000', font: { family: FONT, size: 19 } },
            afterBuildTicks: (s: any) => {
              s.ticks = tickLabelValues.map((v) => ({ value: v }));
            },
            afterFit: (s: any) => {
              s.width = yW;
              s.paddingTop = 0;
              s.paddingBottom = 0;
            },
          },
        },
      } as any,
      plugins: [framePlugin],
    });
    return () => chart.destroy();
  }, []);
  return (
    <canvas
      ref={ref}
      width={width}
      height={height}
      style={{ position: 'absolute', left, top, width, height }}
    />
  );
}

const textStyle: React.CSSProperties = {
  position: 'absolute',
  fontFamily: FONT,
  fontSize: 21,
  color: '#000',
  whiteSpace: 'nowrap',
  lineHeight: '24px',
};

function YTitle({ cy }: { cy: number }) {
  return (
    <div
      style={{
        ...textStyle,
        left: 21,
        top: cy,
        transform: 'translate(-50%, -50%) rotate(-90deg)',
      }}
    >
      {yTitleText}
    </div>
  );
}

function XTitle({ cx }: { cx: number }) {
  return (
    <div style={{ ...textStyle, left: cx, top: 877, transform: 'translateX(-50%)' }}>{xTitleText}</div>
  );
}

const letterStyle: React.CSSProperties = { ...textStyle, fontSize: 19, lineHeight: '22px' };

export default function App() {
  return (
    <div style={{ position: 'absolute', left: 0, top: 0, width: 1151, height: 922, background: '#fff', overflow: 'hidden' }}>
      <Panel index={0} left={0} top={0} width={600} height={420} padTop={10} padRight={9} yW={91} xH={15} showX={false} showY={true} />
      <Panel index={1} left={600} top={0} width={551} height={420} padTop={10} padRight={10} yW={40} xH={15} showX={false} showY={false} />
      <Panel index={2} left={0} top={430} width={620} height={470} padTop={18} padRight={29} yW={91} xH={56} showX={true} showY={true} />
      <Panel index={3} left={600} top={430} width={551} height={470} padTop={18} padRight={10} yW={40} xH={56} showX={true} showY={false} />
      <div style={{ ...letterStyle, left: 122, top: 24 }}>{panelLetters[0]}</div>
      <div style={{ ...letterStyle, left: 671, top: 24 }}>{panelLetters[1]}</div>
      <div style={{ ...letterStyle, left: 122, top: 462 }}>{panelLetters[2]}</div>
      <div style={{ ...letterStyle, left: 672, top: 462 }}>{panelLetters[3]}</div>
      <YTitle cy={206} />
      <YTitle cy={645} />
      <XTitle cx={341} />
      <XTitle cx={890} />
    </div>
  );
}
